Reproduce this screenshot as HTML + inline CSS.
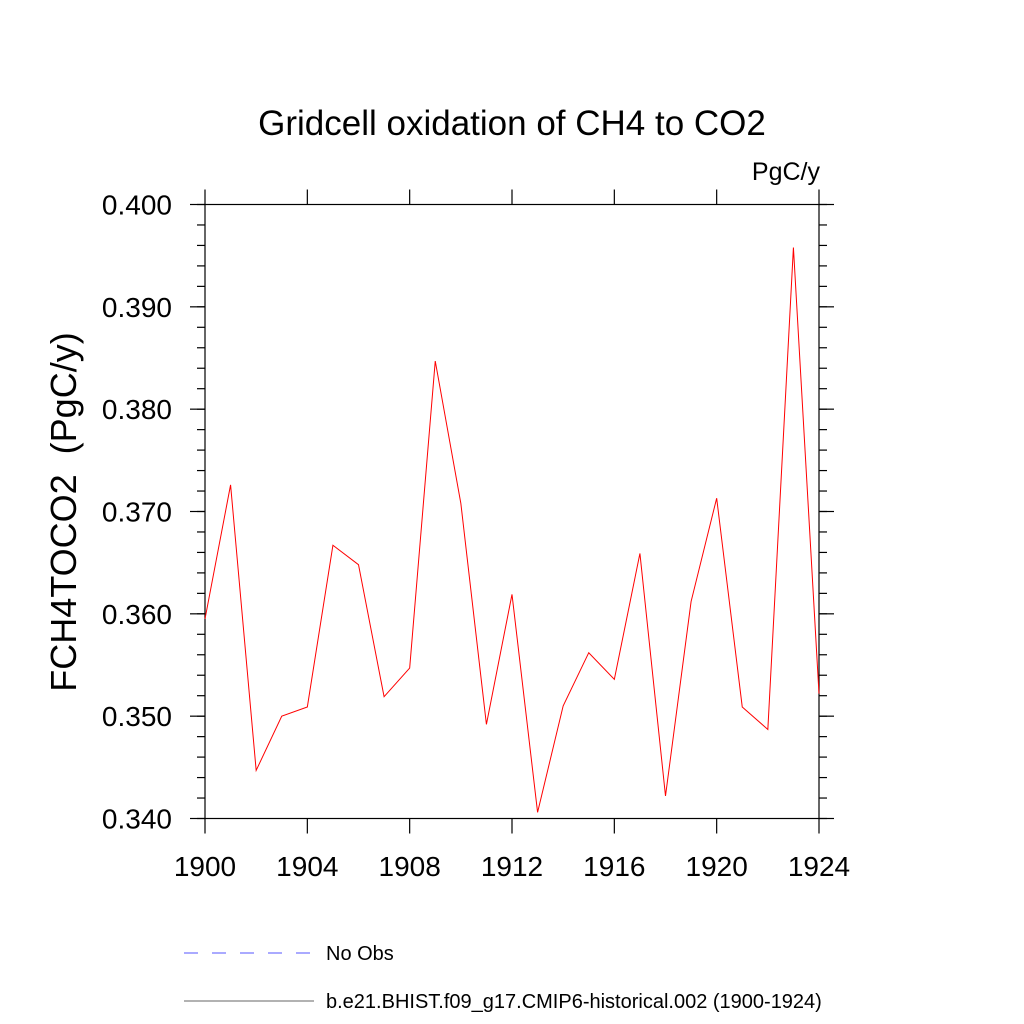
<!DOCTYPE html>
<html><head><meta charset="utf-8"><style>
html,body{margin:0;padding:0;background:#fff;}
svg{display:block;font-family:"Liberation Sans",sans-serif;}
</style></head><body>
<svg id="chart" width="1024" height="1024" viewBox="0 0 1024 1024">
<text x="512" y="135" font-size="35" text-anchor="middle">Gridcell oxidation of CH4 to CO2</text>
<text x="820" y="180" font-size="25" text-anchor="end">PgC/y</text>
<text transform="translate(76,512) rotate(-90)" font-size="36" text-anchor="middle" xml:space="preserve" style="white-space:pre">FCH4TOCO2  (PgC/y)</text>
<g id="axes"></g>
<g id="series"></g>
<g>
<line x1="184" y1="953" x2="314" y2="953" stroke="#5555ff" stroke-width="1" stroke-dasharray="14,14"/>
<text x="326" y="960" font-size="20">No Obs</text>
<line x1="184" y1="1001" x2="314" y2="1001" stroke="#666" stroke-width="1"/>
<text x="326" y="1008" font-size="20">b.e21.BHIST.f09_g17.CMIP6-historical.002 (1900-1924)</text>
</g>
</svg>
<script>
const years = [1900,1901,1902,1903,1904,1905,1906,1907,1908,1909,1910,1911,1912,1913,1914,1915,1916,1917,1918,1919,1920,1921,1922,1923,1924];
const values = [0.3595,0.3726,0.3447,0.3500,0.3509,0.3667,0.3648,0.3519,0.3547,0.3847,0.3708,0.3492,0.3619,0.3406,0.3510,0.3562,0.3536,0.3659,0.3422,0.3612,0.3713,0.3509,0.3487,0.3958,0.3522];
const yTicks = [0.340,0.350,0.360,0.370,0.380,0.390,0.400];
const yTickLabels = ["0.340","0.350","0.360","0.370","0.380","0.390","0.400"];
const xTicks = [1900,1904,1908,1912,1916,1920,1924];
const NS="http://www.w3.org/2000/svg";
const L=205,R=819,T=204.5,B=818.5;
const xMin=1900,xMax=1924,yMin=0.34,yMax=0.40;
function sx(v){return L+(v-xMin)/(xMax-xMin)*(R-L);}
function sy(v){return B-(v-yMin)/(yMax-yMin)*(B-T);}
const axes=document.getElementById('axes');
function ln(x1,y1,x2,y2,name){const e=document.createElementNS(NS,'line');
e.setAttribute('x1',x1);e.setAttribute('y1',y1);e.setAttribute('x2',x2);e.setAttribute('y2',y2);
e.setAttribute('stroke','#000');e.setAttribute('stroke-width','1.2');


axes.appendChild(e);return e;}
function tx(x,y,s,anchor,name){const e=document.createElementNS(NS,'text');
e.setAttribute('x',x);e.setAttribute('y',y);e.setAttribute('font-size','28');e.setAttribute('text-anchor',anchor);e.textContent=s;


axes.appendChild(e);}
const fr=document.createElementNS(NS,'rect');
fr.setAttribute('x',L);fr.setAttribute('y',T);fr.setAttribute('width',R-L);fr.setAttribute('height',B-T);
fr.setAttribute('fill','none');fr.setAttribute('stroke','#000');fr.setAttribute('stroke-width','1.2');


axes.appendChild(fr);
for(let v=yMin;v<=yMax+1e-9;v+=0.002){const y=sy(v);ln(L-8,y,L,y,'y-minor-tick');ln(R,y,R+8,y,'y-minor-tick');}
yTicks.forEach((v,i)=>{const y=sy(v);ln(L-15,y,L,y,'y-major-tick');ln(R,y,R+15,y,'y-major-tick');tx(L-33,y+10,yTickLabels[i],'end','y-tick-label');});
xTicks.forEach(v=>{const x=sx(v);ln(x,B,x,B+15,'x-major-tick');ln(x,T-15,x,T,'x-major-tick');tx(x,876,String(v),'middle','x-tick-label');});
const p=document.createElementNS(NS,'polyline');
p.setAttribute('points',years.map((yr,i)=>sx(yr)+','+sy(values[i])).join(' '));
p.setAttribute('fill','none');p.setAttribute('stroke','#ff0000');p.setAttribute('stroke-width','1');


document.getElementById('series').appendChild(p);
</script>
</body></html>
